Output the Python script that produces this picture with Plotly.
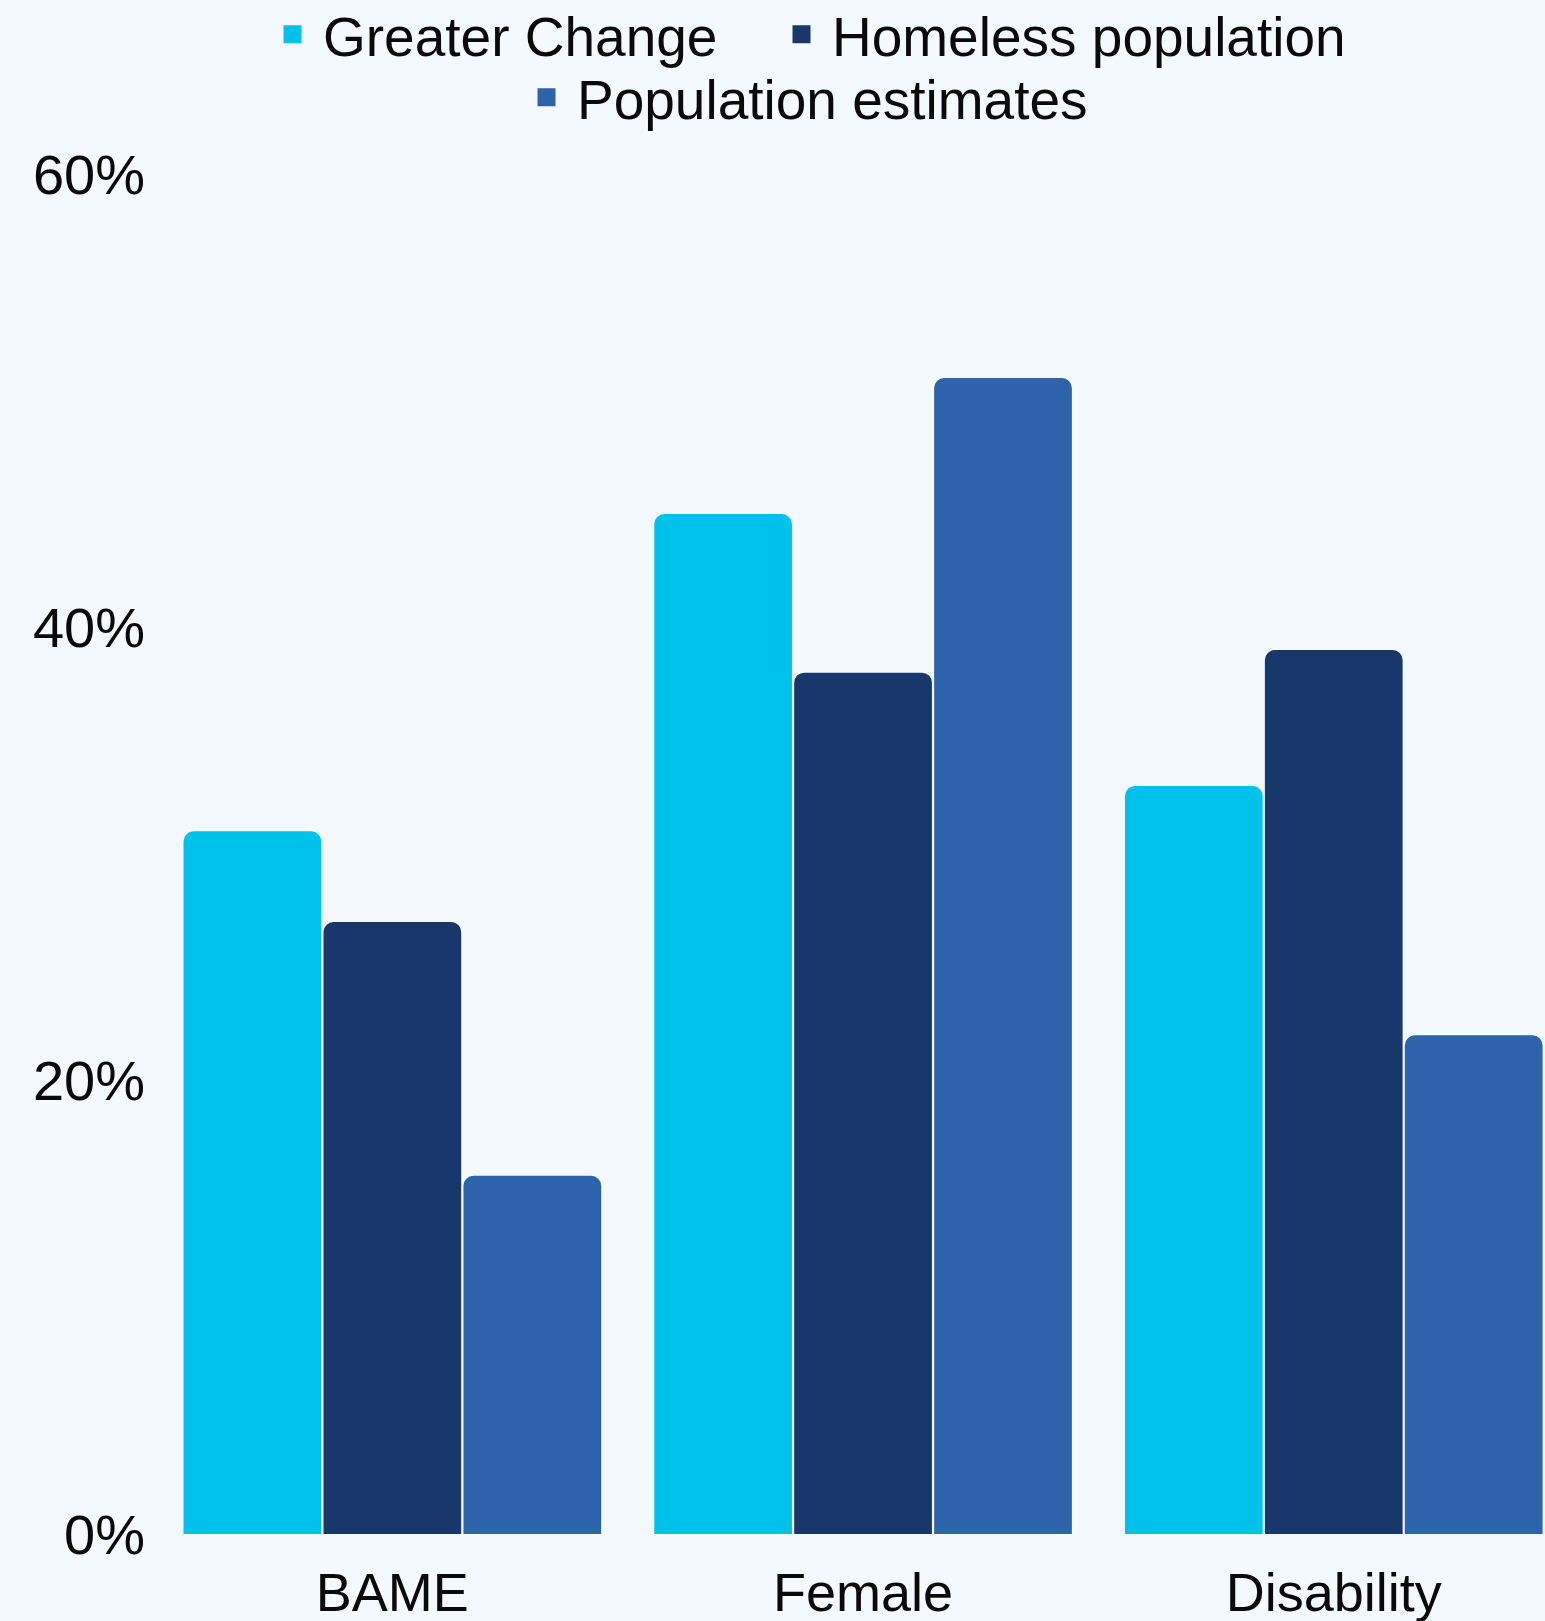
import plotly.graph_objects as go

# ---- data ----
categories = ["BAME", "Female", "Disability"]
series_names = ["Greater Change", "Homeless population", "Population estimates"]
greater_change = [31, 45, 33]
homeless_population = [27, 38, 39]
population_estimates = [15.8, 51, 22]
y_tick_values = [0, 20, 40, 60]
y_tick_labels = ["0%", "20%", "40%", "60%"]

# ---- style ----
colors = ["#00c1e9", "#18386b", "#2d63aa"]
bg = "#f4f8ff"
font_family = "Liberation Sans, Arial, Helvetica, sans-serif"
text_color = "#0a0a0a"

W, H = 1545, 1621
ML, MR, MT, MB = 157, 0, 173.5, 87
plot_w = W - ML - MR
plot_h = H - MT - MB
cat_px = 470.7  # pixel width of one category


def px_to_paper_x(px):
    return (px - ML) / plot_w


def px_to_paper_y(py):
    return (H - MB - py) / plot_h


fig = go.Figure()
all_values = [greater_change, homeless_population, population_estimates]
for name, vals, col in zip(series_names, all_values, colors):
    fig.add_trace(go.Bar(
        x=categories, y=vals, name=name,
        marker=dict(color=col, line=dict(width=0)),
        showlegend=False,
        hovertemplate="%{x}: %{y}%<extra>" + name + "</extra>",
    ))

# legend entries: one small legend per entry so rows can be centred
legend_ids = ["legend", "legend2", "legend3"]
for name, col, lid in zip(series_names, colors, legend_ids):
    fig.add_trace(go.Scatter(
        x=[None], y=[None], mode="markers", name=name,
        marker=dict(symbol="square", size=16, color=col,
                    line=dict(color=col, width=2)),
        legend=lid, hoverinfo="skip",
    ))

x_max = -0.5 + plot_w / cat_px

legend_font = dict(family=font_family, size=55, color=text_color)
# (left origin px, centre y px) for each legend entry
legend_pos = [(262, 34), (771, 34), (516, 97)]
layout_legends = {}
for lid, (lx, ly) in zip(legend_ids, legend_pos):
    layout_legends[lid] = dict(
        orientation="h", x=px_to_paper_x(lx), xanchor="left",
        y=px_to_paper_y(ly), yanchor="middle",
        font=legend_font, bgcolor="rgba(0,0,0,0)",
        itemwidth=51,
        itemclick=False, itemdoubleclick=False,
    )

fig.update_layout(
    width=W, height=H,
    margin=dict(l=ML, r=MR, t=MT, b=MB, autoexpand=False),
    paper_bgcolor=bg, plot_bgcolor=bg,
    barmode="group", bargap=0.108, bargroupgap=0.016,
    barcornerradius=10,
    font=dict(family=font_family, color=text_color),
    xaxis=dict(
        range=[-0.5, x_max], showgrid=False, zeroline=False, showline=False,
        ticks="", tickfont=dict(family=font_family, size=54, color=text_color),
        ticklabelstandoff=22, automargin=False, fixedrange=True,
    ),
    yaxis=dict(
        range=[0, 60], tickvals=y_tick_values, ticktext=y_tick_labels,
        showgrid=False, zeroline=False, showline=False, ticks="",
        tickfont=dict(family=font_family, size=56, color=text_color),
        ticklabelstandoff=11, automargin=False, fixedrange=True,
    ),
    **layout_legends,
)

fig.write_html("out.html")
